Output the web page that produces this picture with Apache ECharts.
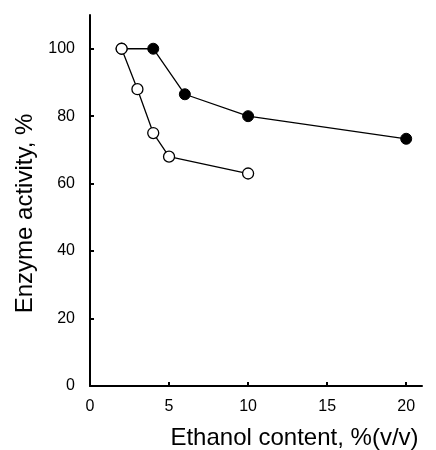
<!DOCTYPE html>
<html><head><meta charset="utf-8">
<script src="https://cdn.jsdelivr.net/npm/echarts@6/dist/echarts.min.js"></script>
<style>html,body{margin:0;padding:0;background:#fff}#c{width:436px;height:450px}</style>
</head><body><div id="c"></div>
<script>
const openX = [2, 3, 4, 5, 10];
const openY = [100, 88, 75, 68, 63];
const filledX = [2, 4, 6, 10, 20];
const filledY = [100, 100, 86.5, 80, 73.3];
const xTicks = [0, 5, 10, 15, 20];
const yTicks = [0, 20, 40, 60, 80, 100];

const chart = echarts.init(document.getElementById('c'), null, {renderer: 'canvas'});
const font = 'Liberation Sans, Arial, sans-serif';
chart.setOption({
  animation: false,
  grid: {left: 90, right: 14, top: 15, bottom: 64, containLabel: false, outerBoundsMode: 'none'},
  xAxis: {
    type: 'value', min: 0, max: 21,
    name: 'Ethanol content, %(v/v)', nameLocation: 'middle', nameGap: 40,
    nameTextStyle: {fontFamily: font, fontSize: 24, color: '#000', padding: [0, 0, 0, 77]},
    axisLine: {show: true, onZero: false, lineStyle: {color: '#000', width: 2}},
    axisTick: {show: true, inside: true, length: 4, lineStyle: {color: '#000', width: 2}, customValues: xTicks},
    axisLabel: {fontFamily: font, fontSize: 16, color: '#000', margin: 13, customValues: xTicks},
    splitLine: {show: false}
  },
  yAxis: {
    type: 'value', min: 0, max: 110,
    name: 'Enzyme activity, %', nameLocation: 'middle', nameGap: 51,
    nameTextStyle: {fontFamily: font, fontSize: 24, color: '#000', padding: [0, 26, 0, 0]},
    axisLine: {show: true, onZero: false, lineStyle: {color: '#000', width: 2}},
    axisTick: {show: true, inside: true, length: 4, lineStyle: {color: '#000', width: 2}, customValues: yTicks},
    axisLabel: {fontFamily: font, fontSize: 16, color: '#000', margin: 15, customValues: yTicks},
    splitLine: {show: false}
  },
  series: [
    {
      type: 'line', data: filledX.map((x, i) => [x, filledY[i]]),
      symbol: 'circle', symbolSize: 11,
      lineStyle: {color: '#000', width: 1.3},
      itemStyle: {color: '#000', borderColor: '#000', borderWidth: 1}
    },
    {
      type: 'line', data: openX.map((x, i) => [x, openY[i]]),
      symbol: 'circle', symbolSize: 11,
      lineStyle: {color: '#000', width: 1.3},
      itemStyle: {color: '#fff', borderColor: '#000', borderWidth: 1.3}
    }
  ]
});
</script></body></html>
